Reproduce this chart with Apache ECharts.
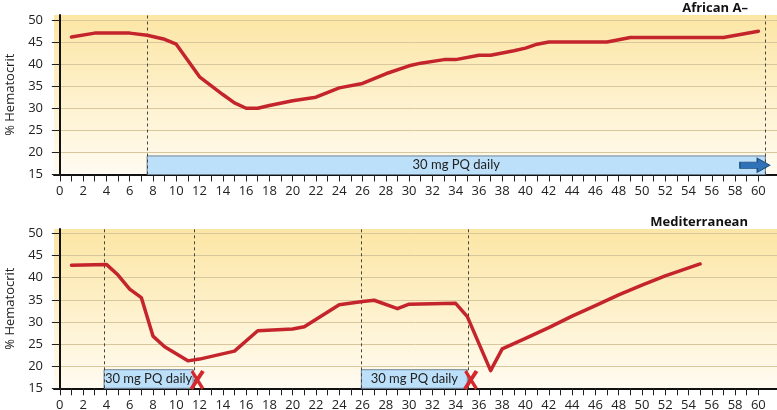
<!DOCTYPE html>
<html>
<head>
<meta charset="utf-8">
<script src="https://cdn.jsdelivr.net/npm/echarts@6/dist/echarts.min.js"></script>
<style>html,body{margin:0;padding:0;background:#fff}#c{width:777px;height:410px}</style>
</head>
<body>
<div id="c"></div>
<script>
// ---- data ----
var africanDays = [1, 3, 6, 7.5, 9, 10, 11, 12, 14, 15, 16, 17, 18, 20, 22, 24, 26, 28, 30, 31, 33, 34, 36, 37, 39, 40, 41, 42, 47, 49, 57, 60];
var africanHct  = [46.1, 47.0, 47.0, 46.5, 45.6, 44.5, 40.8, 37.1, 33.1, 31.2, 30.0, 30.0, 30.6, 31.7, 32.5, 34.6, 35.6, 37.8, 39.6, 40.2, 41.0, 41.0, 42.0, 42.0, 43.0, 43.6, 44.5, 45.0, 45.0, 46.0, 46.0, 47.4];
var medDays = [1, 4, 5, 6, 7, 8, 9, 11, 12, 15, 17, 20, 21, 24, 26, 27, 29, 30, 34, 35, 37, 38, 40, 42, 44, 46, 48, 50, 52, 55];
var medHct  = [42.8, 43.0, 40.6, 37.4, 35.5, 26.8, 24.4, 21.2, 21.6, 23.4, 28.0, 28.4, 28.9, 33.9, 34.6, 34.9, 33.0, 34.0, 34.2, 31.2, 19.0, 23.9, 26.3, 28.7, 31.3, 33.7, 36.1, 38.3, 40.4, 43.1];
// treatment periods [start, end] (days)
var africanDoses = [[7.5, 60.6]];
var medDoses = [[3.8, 11.45], [25.9, 35.0]];
// dashed markers (days)
var africanMarks = [7.5, 60.6];
var medMarks = [3.8, 11.55, 25.9, 35.1];
// stopped-treatment crosses [day, value]
var medStops = [[11.8, 16.9], [35.3, 16.9]];
var africanArrow = [59.7, 17.1];
var doseTop = 19.2;
var doseLabel = '30 mg PQ daily';
var xTickValues = []; for (var i = 0; i <= 60; i++) xTickValues.push(i);
var xLabelValues = []; for (var j = 0; j <= 60; j += 2) xLabelValues.push(j);
var yTickValues = [15, 20, 25, 30, 35, 40, 45, 50];
var titles = ['African A\u2013', 'Mediterranean'];
var yName = '% Hematocrit';

function pairs(xs, ys) { return xs.map(function (x, k) { return [x, ys[k]]; }); }

var FONT = '"Open Sans", "Noto Sans", sans-serif';
var bg = { type: 'linear', x: 0, y: 0, x2: 0, y2: 1,
  colorStops: [{ offset: 0, color: '#fce6a4' }, { offset: 1, color: '#fffbf1' }] };

function xAxisFor(gi) {
  return {
    type: 'value', gridIndex: gi, min: -0.5, max: 61.6,
    axisLine: { show: true, onZero: false, lineStyle: { color: '#111', width: 2 } },
    axisTick: { show: true, customValues: xTickValues, length: 7, lineStyle: { color: '#222', width: 1 } },
    axisLabel: { customValues: xLabelValues, margin: 10, color: '#222', fontSize: 13, fontFamily: FONT },
    splitLine: { show: false }
  };
}
function yAxisFor(gi, max) {
  return {
    type: 'value', gridIndex: gi, min: 15, max: max,
    name: yName, nameLocation: 'middle', nameRotate: 90, nameGap: 37,
    nameTextStyle: { color: '#222', fontSize: 13, fontFamily: FONT },
    axisLine: { show: true, lineStyle: { color: '#111', width: 2 } },
    axisTick: { show: true, customValues: yTickValues, length: 8, lineStyle: { color: '#222', width: 1 } },
    axisLabel: { customValues: yTickValues, margin: 11, color: '#222', fontSize: 13, fontFamily: FONT },
    splitLine: { show: true, lineStyle: { color: '#d8c79c', width: 1 } }
  };
}
var xPath = 'path://M8,10 L24,0 L94,88 L78,100 Z M76,0 L98,10 L22,100 L2,90 Z';
var arrowPath = 'path://M0,28 L58,28 L58,0 L100,50 L58,100 L58,72 L0,72 Z';

function doseAreas(doses) {
  return doses.map(function (d) {
    return [{ xAxis: d[0], yAxis: 15 }, { xAxis: d[1], yAxis: doseTop }];
  });
}
function lineSeries(gi, data, marks, doses, points) {
  return {
    type: 'line', xAxisIndex: gi, yAxisIndex: gi, data: data,
    showSymbol: false, symbol: 'none',
    lineStyle: { color: '#c4252c', width: 3.5, cap: 'round', join: 'round' },
    z: 5,
    markArea: {
      silent: true,
      itemStyle: { color: '#bde0fa', borderColor: '#6e8296', borderWidth: 1 },
      label: { show: true, position: 'inside', formatter: doseLabel, color: '#222', fontSize: 13, fontFamily: 'Lato, "Open Sans", sans-serif' },
      data: doseAreas(doses)
    },
    markLine: {
      silent: true, symbol: 'none', animation: false,
      lineStyle: { color: '#444', type: [3, 3], width: 1 },
      label: { show: false },
      data: marks.map(function (m) { return { xAxis: m }; })
    },
    markPoint: { silent: true, animation: false, label: { show: false }, data: points }
  };
}

var chart = echarts.init(document.getElementById('c'), null, { renderer: 'canvas' });
chart.setOption({
  animation: false,
  backgroundColor: '#fff',
  title: [
    { text: titles[0], right: 24, top: -3, textStyle: { fontSize: 13, fontWeight: 'bold', color: '#111', fontFamily: FONT } },
    { text: titles[1], right: 24, top: 211, textStyle: { fontSize: 13, fontWeight: 'bold', color: '#111', fontFamily: FONT } }
  ],
  grid: [
    { left: 54, right: 0, top: 15, height: 159.5, show: true, backgroundColor: bg, borderWidth: 0, outerBoundsMode: 'none', containLabel: false },
    { left: 54, right: 0, top: 229, height: 159.3, show: true, backgroundColor: bg, borderWidth: 0, outerBoundsMode: 'none', containLabel: false }
  ],
  xAxis: [xAxisFor(0), xAxisFor(1)],
  yAxis: [yAxisFor(0, 51.1), yAxisFor(1, 51)],
  series: [
    lineSeries(0, pairs(africanDays, africanHct), africanMarks, africanDoses, [
      { coord: africanArrow, symbol: arrowPath, symbolSize: [30, 14],
        itemStyle: { color: '#2f72b8', borderColor: '#1d4d7e', borderWidth: 1 } }
    ]),
    lineSeries(1, pairs(medDays, medHct), medMarks, medDoses, medStops.map(function (s) {
      return { coord: s, symbol: xPath, symbolSize: [15, 20], itemStyle: { color: '#d3282e' } };
    }))
  ]
});
</script>
</body>
</html>
